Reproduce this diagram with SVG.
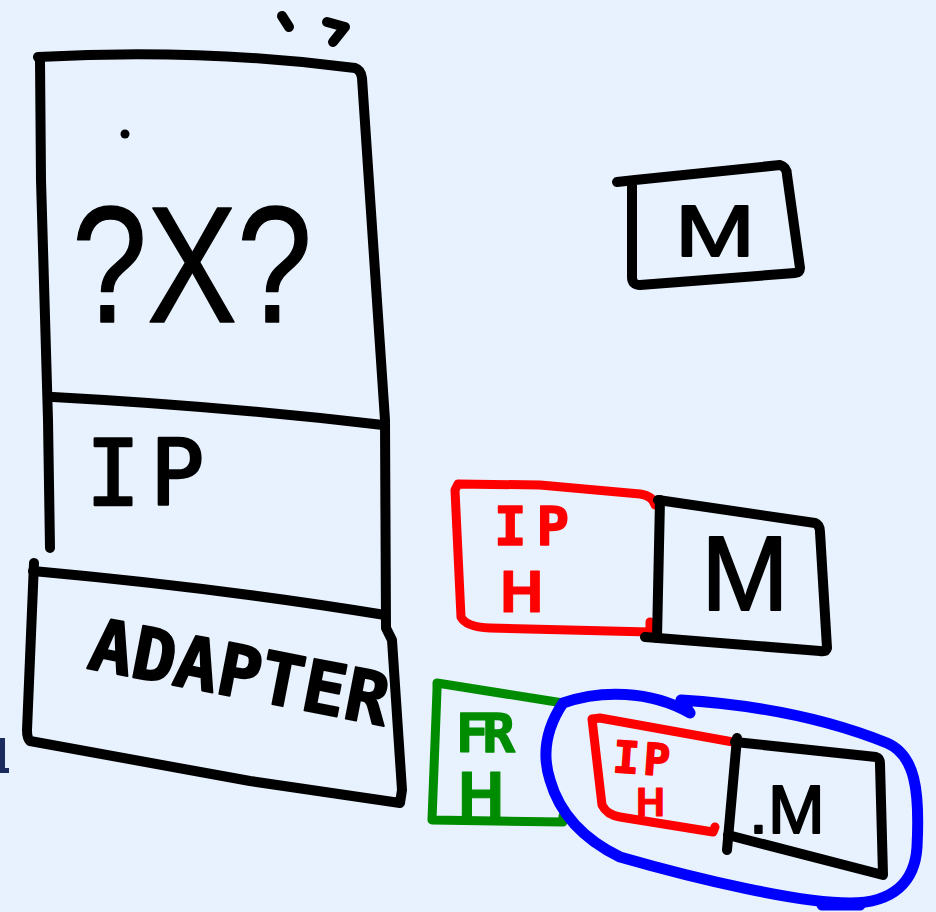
<svg xmlns="http://www.w3.org/2000/svg" width="936" height="912" viewBox="0 0 936 912">
<style>
.k{fill:none;stroke:#000;stroke-width:10;stroke-linecap:round;stroke-linejoin:round}
.r{fill:none;stroke:#f00;stroke-width:9;stroke-linecap:round;stroke-linejoin:round}
.g{fill:none;stroke:#008c00;stroke-width:9;stroke-linecap:round;stroke-linejoin:round}
.b{fill:none;stroke:#0000ff;stroke-width:11;stroke-linecap:round;stroke-linejoin:round}
.hs{font-family:"Liberation Sans",Arial,sans-serif;stroke-linejoin:round;stroke-linecap:round}
.hm{font-family:"DejaVu Sans Mono","Liberation Mono",monospace;stroke-linejoin:round;stroke-linecap:round}
.tk{fill:#000;stroke:#000}
.tr{fill:#f00;stroke:#f00}
.tg{fill:#008c00;stroke:#008c00}
</style>
<rect width="936" height="912" fill="#e8f2fe"/>
<rect x="0" y="738" width="5" height="35" fill="#1c2b5e"/>
<rect x="0" y="768" width="9" height="5" fill="#1c2b5e"/>

<g id="stack">
  <path class="k" d="M50,548 L48,420 L41,180 L40,60 L38,57 Q200,48 355,68 Q361,70 362,78 L385,420 L386,628 L392,640 L402,790 L400,803 L250,781 L30,741 Q27,738 27,730 L34,563"/>
  <path class="k" d="M53,397 Q220,406 383,425"/>
  <path class="k" d="M33,571 Q220,588 385,615"/>
  <g id="unknown-layer">
    <circle cx="125" cy="134" r="4.5" fill="#000"/>
    <text class="hs tk" x="72" y="322" font-size="165" stroke-width="1.5" textLength="240" lengthAdjust="spacingAndGlyphs">?X?</text>
  </g>
  <g id="ip-layer">
    <text class="hm tk" x="86" y="505" font-size="90" stroke-width="2.5" letter-spacing="10">IP</text>
  </g>
  <g id="adapter-layer">
    <text class="hm tk" x="86" y="668" font-size="72" font-weight="bold" stroke-width="2" transform="rotate(11 86 668)">ADAPTER</text>
  </g>
  <path class="k" d="M282,16 L289,27 M327,22 L345,27 L333,42" stroke-width="11"/>
</g>

<g id="message">
  <path class="k" d="M617,182 L635,180 L780,165 Q787,167 787,175 L800,268 Q800,273 795,273 L640,285 Q632,285 632,277 L632,182"/>
  <text class="hs tk" x="715" y="256" font-size="72" stroke-width="2" text-anchor="middle" textLength="80" lengthAdjust="spacingAndGlyphs">M</text>
</g>

<g id="ip-packet">
  <g id="ip-header-1">
    <path class="r" d="M655,505 Q653,496 640,494 L540,485 L458,484 L455,490 L461,617 Q466,627 490,628 L650,632 L650,622"/>
    <text class="hm tr" x="494" y="545" font-size="54" font-weight="bold" stroke-width="1.5" letter-spacing="10">IP</text>
    <text class="hs tr" x="500" y="612" font-size="60" font-weight="bold" stroke-width="1">H</text>
  </g>
  <g id="payload-1">
    <path class="k" d="M660,500 L657,638"/>
    <path class="k" d="M658,500 L815,523 Q820,525 820,532 L827,648 Q826,652 820,651 L645,637"/>
    <text class="hs tk" x="745" y="610" font-size="105" stroke-width="2" text-anchor="middle">M</text>
  </g>
</g>

<g id="frame">
  <g id="frame-header">
    <path class="g" d="M563,703 L437,683 L437,690 L432,820 L563,822 L563,816"/>
    <text class="hm tg" x="456" y="752" font-size="54" font-weight="bold" stroke-width="1.5" letter-spacing="-6">FR</text>
    <text class="hs tg" x="458" y="817" font-size="64" font-weight="bold" stroke-width="1">H</text>
  </g>
  <g id="frame-payload">
    <path class="b" d="M563,703 C600,690 650,690 690,713 L681,700 C760,705 830,720 887,743 C915,755 920,790 917,847 C915,882 893,903 850,903 C800,903 700,880 620,857 C585,840 560,815 550,780 C542,755 545,730 563,703 Z"/>
    <path class="b" d="M822,905 L860,905" stroke-width="13"/>
    <g id="ip-header-2">
      <path class="r" d="M733,742 L600,718 L592,719 L602,805 Q607,815 620,817 L713,832 L715,827"/>
      <text class="hm tr" x="612" y="772" font-size="44" font-weight="bold" stroke-width="1.5" letter-spacing="4" transform="rotate(4 612 772)">IP</text>
      <text class="hs tr" x="636" y="816" font-size="40" font-weight="bold" stroke-width="1">H</text>
    </g>
    <g id="payload-2">
      <path class="k" d="M737,738 L727,850"/>
      <path class="k" d="M735,742 L876,757 Q880,758 880,764 L883,875 L728,835"/>
      <text class="hs tk" x="749" y="833" font-size="68" stroke-width="2">.M</text>
    </g>
  </g>
</g>
</svg>
